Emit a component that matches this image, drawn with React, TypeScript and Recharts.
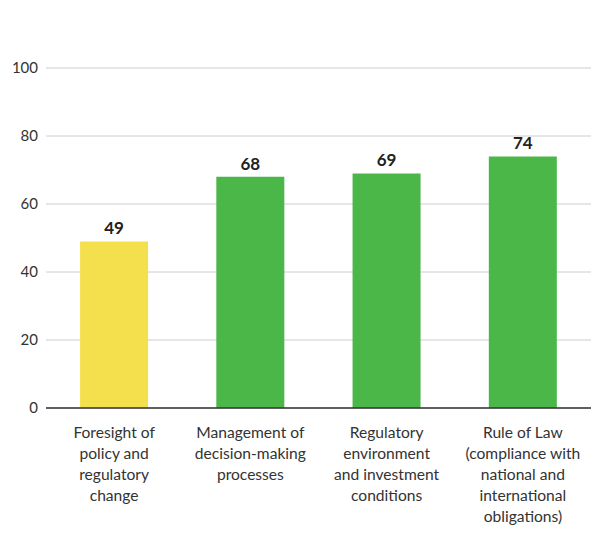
import React from "react";
import { BarChart, Bar, XAxis, YAxis, CartesianGrid, LabelList, Cell } from "recharts";

const categories = [
  "Foresight of\npolicy and\nregulatory\nchange",
  "Management of\ndecision-making\nprocesses",
  "Regulatory\nenvironment\nand investment\nconditions",
  "Rule of Law\n(compliance with\nnational and\ninternational\nobligations)",
];
const values = [49, 68, 69, 74];
const barColors = ["#F4E04D", "#4BB749", "#4BB749", "#4BB749"];
const yTicks = [0, 20, 40, 60, 80, 100];

const data = categories.map((c, i) => ({ name: c, value: values[i] }));

const FONT = "Lato, 'Open Sans', sans-serif";

const CatTick = (props: any) => {
  const { x, y, payload } = props;
  const lines = String(payload.value).split("\n");
  return (
    <g transform={`translate(${x},${y})`}>
      <text textAnchor="middle" fill="#333" fontSize={15.6} fontFamily={FONT}>
        {lines.map((l: string, i: number) => (
          <tspan key={i} x={0} y={i * 21 + 22}>
            {l}
          </tspan>
        ))}
      </text>
    </g>
  );
};

export default function App() {
  return (
    <div style={{ position: "absolute", left: 0, top: 0, width: 606, height: 533, background: "#fff" }}>
      <BarChart
        width={606}
        height={533}
        data={data}
        margin={{ top: 68, right: 15, bottom: 95, left: 0 }}
        barCategoryGap="25%"
      >
        <CartesianGrid vertical={false} stroke="#cccccc" />
        <XAxis
          dataKey="name"
          height={30}
          axisLine={{ stroke: "#333", strokeWidth: 1.5 }}
          tickLine={false}
          interval={0}
          tick={<CatTick />}
        />
        <YAxis
          domain={[0, 100]}
          ticks={yTicks}
          width={46}
          axisLine={false}
          tickLine={false}
          tickSize={6}
          tickMargin={2}
          tick={{ fill: "#333", fontSize: 15, fontFamily: FONT }}
        />
        <Bar dataKey="value" isAnimationActive={false}>
          {values.map((v, i) => (
            <Cell key={i} fill={barColors[i]} />
          ))}
          <LabelList
            dataKey="value"
            position="top"
            offset={7}
            fill="#222"
            fontSize={17}
            fontWeight={700}
            fontFamily={FONT}
          />
        </Bar>
      </BarChart>
    </div>
  );
}
